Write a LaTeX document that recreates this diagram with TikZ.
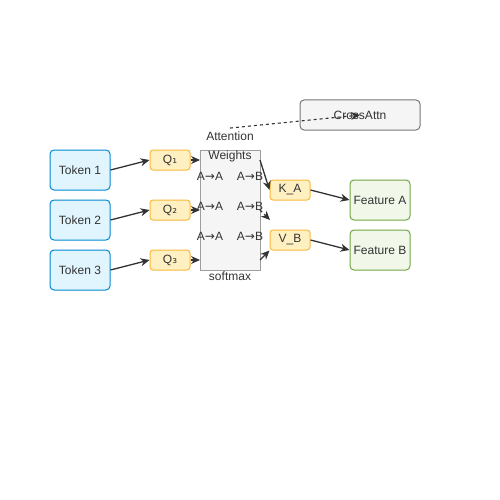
\documentclass[tikz,border=0pt]{standalone}
\usepackage{fontspec}
\setmainfont{Liberation Sans}
\newfontfamily\symfont{DejaVu Sans}
\usetikzlibrary{arrows.meta}
\definecolor{txt}{HTML}{333333}
\definecolor{tokfill}{HTML}{E1F5FE}
\definecolor{tokline}{HTML}{0288D1}
\definecolor{qfill}{HTML}{FFF0C2}
\definecolor{qline}{HTML}{F9B93B}
\definecolor{featfill}{HTML}{F1F8E9}
\definecolor{featline}{HTML}{72A544}
\definecolor{grayfill}{HTML}{F5F5F5}
\definecolor{attline}{HTML}{9E9E9E}
\definecolor{crossline}{HTML}{777777}
\begin{document}
\begin{tikzpicture}[x=1pt,y=-1pt,
    every node/.style={font=\fontsize{12}{14}\selectfont, text=txt},
    token/.style={draw=tokline, fill=tokfill, rounded corners=4pt, line width=1pt, minimum width=60pt, minimum height=40pt, inner sep=0pt},
    query/.style={draw=qline, fill=qfill, rounded corners=3pt, line width=1pt, minimum width=40pt, minimum height=20pt, inner sep=0pt},
    feature/.style={draw=featline, fill=featfill, rounded corners=4pt, line width=1pt, minimum width=60pt, minimum height=40pt, inner sep=0pt},
    link/.style={-{Stealth[length=9pt,width=8pt]}, draw=txt, line width=1.3pt}
  ]
    \useasboundingbox (0,0) rectangle (500,500);

    \node[draw=crossline, fill=grayfill, rounded corners=4pt, line width=1pt, minimum width=120pt, minimum height=30pt, inner sep=0pt] at (360,115) (cross) {CrossAttn};

    \node[token] at (80,170) (tok1) {Token 1};
    \node[token] at (80,220) (tok2) {Token 2};
    \node[token] at (80,270) (tok3) {Token 3};

    \node[query] at (170,160) (q1) {Q{\symfont ₁}};
    \node[query] at (170,210) (q2) {Q{\symfont ₂}};
    \node[query] at (170,260) (q3) {Q{\symfont ₃}};

    \node[draw=attline, fill=grayfill, line width=1pt, minimum width=60pt, minimum height=120pt, inner sep=0pt] at (230,210) (attn) {};
    \node at (230,136) (attlbl) {Attention};
    \node at (230,156) (wlbl) {Weights};
    \node at (230,276) (smlbl) {softmax};
    \node at (210,176) (aa1) {A{\symfont →}A};
    \node at (250,176) (ab1) {A{\symfont →}B};
    \node at (210,206) (aa2) {A{\symfont →}A};
    \node at (250,206) (ab2) {A{\symfont →}B};
    \node at (210,236) (aa3) {A{\symfont →}A};
    \node at (250,236) (ab3) {A{\symfont →}B};

    \node[query] at (290,190) (kA) {K\_A};
    \node[query] at (290,240) (vB) {V\_B};

    \node[feature] at (380,200) (featA) {Feature A};
    \node[feature] at (380,250) (featB) {Feature B};

    \coordinate (in1) at (200,160);
    \coordinate (in2) at (200,210);
    \coordinate (in3) at (200,260);
    \coordinate (out1) at (260,160);
    \coordinate (out2) at (260,210);
    \coordinate (out3) at (260,260);
    \coordinate (mid) at (270,220);

    \draw[link] (tok1.east) to (q1.west);
    \draw[link] (tok2.east) to (q2.west);
    \draw[link] (tok3.east) to (q3.west);

    \draw[link] (q1.east) to (in1);
    \draw[link] (q2.east) to (in2);
    \draw[link] (q3.east) to (in3);

    \draw[link] (out1) to (kA.west);
    \draw[link, dashed] (out2) to (mid);
    \draw[link] (out3) to (vB.south west);

    \draw[link] (kA.east) to (featA.west);
    \draw[link] (vB.east) to (featB.west);

    \draw[link, dashed, line width=1.1pt] (attlbl.north) to (cross.center);
\end{tikzpicture}
\end{document}
